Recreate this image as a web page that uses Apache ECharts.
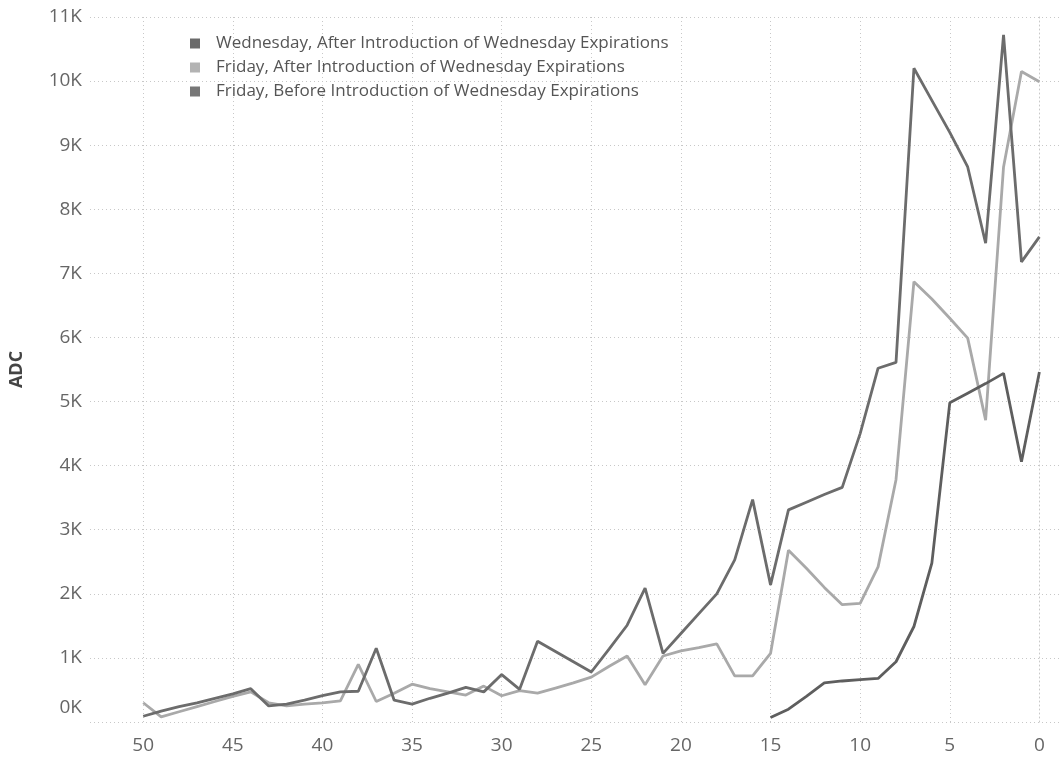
<!DOCTYPE html>
<html>
<head>
<meta charset="utf-8">
<script src="https://cdn.jsdelivr.net/npm/echarts@6/dist/echarts.min.js"></script>
<style>
html,body{margin:0;padding:0;background:#fff;}
#chart{width:1060px;height:761px;}
</style>
</head>
<body>
<div id="chart"></div>
<script>
// Days to expiration (x axis)
const fridayDays = [50,49,48,47,46,45,44,43,42,41,40,39,38,37,36,35,34,33,32,31,30,29,28,27,26,25,24,23,22,21,20,19,18,17,16,15,14,13,12,11,10,9,8,7,6,5,4,3,2,1,0];
const wednesdayDays = [15,14,13,12,11,10,9,8,7,6,5,4,3,2,1,0];

// ADC values
const fridayBefore = [90,170,240,300,370,440,520,250,280,340,410,470,480,1150,340,280,370,450,540,470,740,510,1260,1100,940,780,1140,1510,2090,1070,1380,1690,2000,2530,3470,2140,3310,3430,3550,3660,4500,5520,5610,10200,9700,9200,8660,7470,10720,7180,7570];
const fridayAfter = [300,80,160,240,320,400,470,300,250,280,300,330,900,320,450,590,520,470,420,560,410,490,450,530,610,700,870,1030,580,1030,1110,1160,1220,720,720,1070,2680,2400,2100,1830,1850,2420,3780,6870,6600,6300,5990,4710,8660,10150,9990];
const wednesdayAfter = [70,200,400,610,640,660,680,940,1490,2480,4980,5130,5280,5440,4060,5460];

// Axis ticks
const xTicks = [0,5,10,15,20,25,30,35,40,45,50];

const seriesNames = [
  'Wednesday, After Introduction of Wednesday Expirations',
  'Friday, After Introduction of Wednesday Expirations',
  'Friday, Before Introduction of Wednesday Expirations'
];

const pair = (xs, ys) => xs.map((x, i) => [x, ys[i]]);

const chart = echarts.init(document.getElementById('chart'), null, {renderer: 'canvas'});
const gridColor = '#c8c8c8';
const font = '"Open Sans", "Noto Sans", sans-serif';

chart.setOption({
  animation: false,
  backgroundColor: '#fff',
  grid: {left: 88, right: 0, top: 17, bottom: 39, containLabel: false},
  legend: {
    orient: 'vertical',
    left: 190, top: 35,
    padding: 0,
    itemGap: 7,
    itemWidth: 10, itemHeight: 10,
    icon: 'rect',
    textStyle: {fontFamily: font, fontSize: 17, color: '#555', padding: [0,0,0,11]},
    data: [
      {name: seriesNames[0], itemStyle: {color: '#6a6a6a'}},
      {name: seriesNames[1], itemStyle: {color: '#b3b3b3'}},
      {name: seriesNames[2], itemStyle: {color: '#777777'}}
    ]
  },
  xAxis: {
    type: 'value',
    inverse: true,
    min: -1.15, max: 52.97,
    axisLine: {show: false},
    axisTick: {show: false, customValues: xTicks},
    axisLabel: {customValues: xTicks, fontFamily: font, fontSize: 19, color: '#666', margin: 14},
    splitLine: {show: true, lineStyle: {color: gridColor, type: [1, 3], width: 1}}
  },
  yAxis: {
    type: 'value',
    min: 0, max: 11000, interval: 1000,
    name: 'ADC',
    nameLocation: 'middle',
    nameGap: 64,
    nameRotate: 90,
    nameTextStyle: {fontFamily: font, fontSize: 18, fontWeight: 'bold', color: '#444'},
    axisLine: {show: true, lineStyle: {color: gridColor, type: [1, 3], width: 1}},
    axisTick: {show: false},
    axisLabel: {
      fontFamily: font, fontSize: 19, color: '#666', margin: 8,
      formatter: v => v === 0 ? '{z|0K}' : (v / 1000) + 'K',
      rich: {z: {fontFamily: font, fontSize: 19, color: '#666', padding: [0, 0, 28, 0]}}
    },
    splitLine: {show: true, lineStyle: {color: gridColor, type: [1, 3], width: 1}}
  },
  series: [
    {name: seriesNames[1], type: 'line', data: pair(fridayDays, fridayAfter), showSymbol: false, symbol: 'none',
     lineStyle: {color: '#a9a9a9', width: 2.8}, itemStyle: {color: '#b3b3b3'}, z: 2},
    {name: seriesNames[2], type: 'line', data: pair(fridayDays, fridayBefore), showSymbol: false, symbol: 'none',
     lineStyle: {color: '#6c6c6c', width: 2.8}, itemStyle: {color: '#777777'}, z: 3},
    {name: seriesNames[0], type: 'line', data: pair(wednesdayDays, wednesdayAfter), showSymbol: false, symbol: 'none',
     lineStyle: {color: '#5e5e5e', width: 2.8}, itemStyle: {color: '#6a6a6a'}, z: 4}
  ]
});
</script>
</body>
</html>
